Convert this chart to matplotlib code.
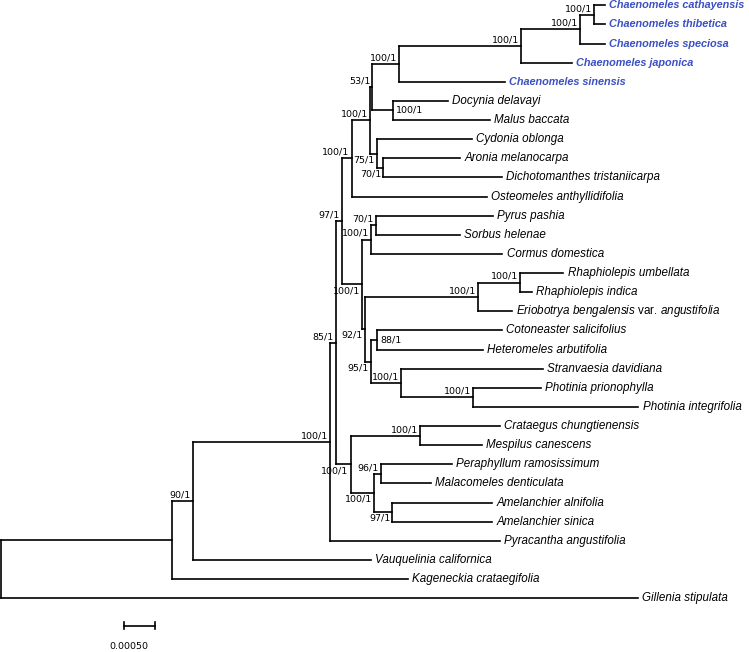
import matplotlib
matplotlib.use("Agg")
import matplotlib.pyplot as plt

plt.rcParams['mathtext.fontset'] = 'custom'
plt.rcParams['mathtext.it'] = 'Liberation Sans:italic'
plt.rcParams['mathtext.rm'] = 'Liberation Sans'

# Baum in Preorder, Kinder von oben nach unten
NODE = [
    "root", "n1", "n2", "n3", "n4", "n6", "v", "y", "x", "ch1", "ch2", "ch3", "ch4",
    "Chaenomeles cathayensis", "Chaenomeles thibetica", "Chaenomeles speciosa",
    "Chaenomeles japonica", "Chaenomeles sinensis",
    "dm", "Docynia delavayi", "Malus baccata",
    "z", "Cydonia oblonga", "w", "Aronia melanocarpa", "Dichotomanthes tristaniicarpa",
    "Osteomeles anthyllidifolia",
    "n7", "psc", "ps", "Pyrus pashia", "Sorbus helenae", "Cormus domestica",
    "n8", "re", "r", "Rhaphiolepis umbellata", "Rhaphiolepis indica",
    "Eriobotrya bengalensis var. angustifolia",
    "n9", "chx", "Cotoneaster salicifolius", "Heteromeles arbutifolia",
    "sp", "Stranvaesia davidiana", "p", "Photinia prionophylla", "Photinia integrifolia",
    "n5", "cm", "Crataegus chungtienensis", "Mespilus canescens",
    "n10", "pm", "Peraphyllum ramosissimum", "Malacomeles denticulata",
    "a", "Amelanchier alnifolia", "Amelanchier sinica",
    "Pyracantha angustifolia", "Vauquelinia californica", "Kageneckia crataegifolia",
    "Gillenia stipulata",
]
PARENT = [
    None, "root", "n1", "n2", "n3", "n4", "n6", "v", "y", "x", "ch1", "ch2", "ch3",
    "ch4", "ch4", "ch3",
    "ch2", "ch1",
    "x", "dm", "dm",
    "y", "z", "z", "w", "w",
    "v",
    "n6", "n7", "psc", "ps", "ps", "psc",
    "n7", "n8", "re", "r", "r",
    "re",
    "n8", "n9", "chx", "chx",
    "n9", "sp", "sp", "p", "p",
    "n4", "n5", "cm", "cm",
    "n5", "n10", "pm", "pm",
    "n10", "a", "a",
    "n3", "n2", "n1",
    "root",
]
BRANCH = [
    0.0, 0.002753, 0.000339, 0.002215, 0.000092, 0.000097, 0.000161, 0.000295,
    0.000037, 0.000435, 0.001963, 0.000952, 0.000226,
    0.000177, 0.000177, 0.000403,
    0.000818, 0.001705,
    0.000329, 0.000897, 0.001569,
    0.000108, 0.001532, 0.000106, 0.001237, 0.001919,
    0.002177,
    0.000323, 0.000150, 0.000076, 0.001887, 0.001360, 0.002118,
    0.000053, 0.001827, 0.000673, 0.000698, 0.000189,
    0.000539,
    0.000092, 0.000097, 0.002016, 0.001710,
    0.000484, 0.002290, 0.001161, 0.001097, 0.002671,
    0.000242, 0.001118, 0.001290, 0.000995,
    0.000376, 0.000113, 0.001140, 0.000806,
    0.000295, 0.001613, 0.001613,
    0.002742, 0.002871, 0.003811,
    0.010279,
]
SUPPORT = [
    "", "", "90/1", "100/1", "85/1", "97/1", "100/1", "100/1", "53/1", "100/1",
    "100/1", "100/1", "100/1",
    "", "", "",
    "", "",
    "100/1", "", "",
    "75/1", "", "70/1", "", "",
    "",
    "100/1", "100/1", "70/1", "", "", "",
    "92/1", "100/1", "100/1", "", "",
    "",
    "95/1", "88/1", "", "",
    "100/1", "", "100/1", "", "",
    "100/1", "100/1", "", "",
    "100/1", "96/1", "", "",
    "97/1", "", "",
    "", "", "",
    "",
]

LABEL_BELOW = {"z", "w", "n7", "n8", "n9", "n5", "n10", "a"}
LABEL_RIGHT = {"dm", "chx"}
BLUE = "#3b50c4"

SCALE_LEN = 0.0005
SCALE_TEXT = "0.00050"

U = SCALE_LEN / 31.0          # Einheiten pro Pixel

children = {n: [] for n in NODE}
for n, par in zip(NODE, PARENT):
    if par is not None:
        children[par].append(n)

depth = {}
for n, par, b in zip(NODE, PARENT, BRANCH):
    depth[n] = b + (depth[par] if par is not None else 0.0)

ypos = {}
tips = []


def place(n):
    if not children[n]:
        ypos[n] = len(tips)
        tips.append(n)
    else:
        for c in children[n]:
            place(c)
        ypos[n] = (ypos[children[n][0]] + ypos[children[n][-1]]) / 2


place("root")

fig = plt.figure(figsize=(7.49, 6.52), dpi=100)
ax = fig.add_axes([0, 0, 1, 1])
ax.set_xlim(-1 * U, 748 * U)
ax.set_ylim(33.81, -0.277)
ax.axis("off")

lw = 1.2
for n, par in zip(NODE, PARENT):
    if par is not None:
        ax.plot([depth[par], depth[n]], [ypos[n], ypos[n]], color="black",
                lw=lw, solid_capstyle="projecting")
    if children[n]:
        ax.plot([depth[n], depth[n]],
                [ypos[children[n][0]], ypos[children[n][-1]]],
                color="black", lw=lw, solid_capstyle="projecting")

for t in tips:
    if t.startswith("Chaenomeles"):
        ax.annotate(t, (depth[t], ypos[t]), xytext=(3, 0), textcoords="offset points",
                    ha="left", va="center", fontsize=7.8, color=BLUE,
                    fontstyle="italic", fontweight="bold", family="Liberation Sans")
    elif " var. " in t:
        a, b = t.split(" var. ")
        lab = r"$\mathit{%s}$ var. $\mathit{%s}$" % (a.replace(" ", r"\ "), b)
        ax.annotate(lab, (depth[t], ypos[t]), xytext=(3, 0), textcoords="offset points",
                    ha="left", va="center", fontsize=8.4, family="Liberation Sans")
    else:
        ax.annotate(t, (depth[t], ypos[t]), xytext=(3, 0), textcoords="offset points",
                    ha="left", va="center", fontsize=8.4, fontstyle="italic",
                    family="Liberation Sans")

for n, s in zip(NODE, SUPPORT):
    if not s:
        continue
    if n in LABEL_RIGHT:
        off, ha, va = (2.5, 0), "left", "center"
    elif n in LABEL_BELOW:
        off, ha, va = (-1.5, -1.2), "right", "top"
    else:
        off, ha, va = (-1.5, 1.2), "right", "bottom"
    ax.annotate(s, (depth[n], ypos[n]), xytext=off, textcoords="offset points",
                ha=ha, va=va, fontsize=6.8, family="DejaVu Sans")

# Massstab
x0 = 123 * U
yb = (625.7 - 5.3) / 19.13
ax.plot([x0, x0 + SCALE_LEN], [yb, yb], color="black", lw=lw)
for xx in (x0, x0 + SCALE_LEN):
    ax.plot([xx, xx], [yb - 0.17, yb + 0.17], color="black", lw=lw)
ax.text(127.7 * U, (646.7 - 5.3) / 19.13, SCALE_TEXT, ha="center", va="center",
        fontsize=6.8, family="DejaVu Sans")

fig.savefig("out.png", dpi=100)
